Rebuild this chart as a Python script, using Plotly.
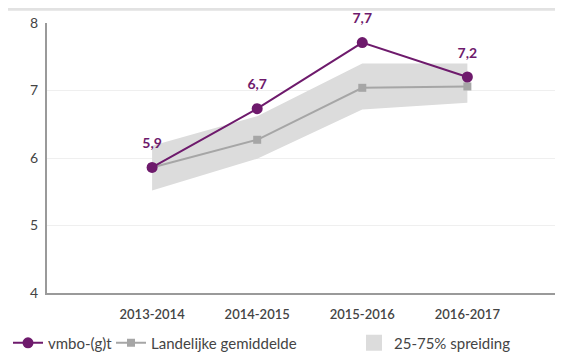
import plotly.graph_objects as go

categories = ["2013-2014", "2014-2015", "2015-2016", "2016-2017"]
vmbo = [5.86, 6.73, 7.71, 7.20]
vmbo_labels = ["5,9", "6,7", "7,7", "7,2"]
landelijk = [5.86, 6.27, 7.04, 7.06]
band_upper = [6.18, 6.62, 7.40, 7.40]
band_lower = [5.52, 5.99, 6.72, 6.82]
y_ticks = [4, 5, 6, 7, 8]

PURPLE = "#6e1a6c"
GRAY_LINE = "#a6a6a6"
BAND = "#dcdcdc"
FONT = "Lato"

xi = list(range(len(categories)))

fig = go.Figure()
fig.add_trace(go.Scatter(
    x=xi, y=band_lower, mode="lines", line=dict(width=0, color=BAND),
    showlegend=False, hoverinfo="skip"))
fig.add_trace(go.Scatter(
    x=xi, y=band_upper, mode="lines", line=dict(width=0, color=BAND),
    fill="tonexty", fillcolor=BAND, showlegend=False, hoverinfo="skip",
    legendgroup="band"))
# legend entry (box) for the band
fig.add_trace(go.Scatter(
    x=[None], y=[None], mode="markers", name="25-75% spreiding",
    marker=dict(symbol="square", size=16, color=BAND),
    legendgroup="band", legendrank=3))
fig.add_trace(go.Scatter(
    x=xi, y=landelijk, mode="lines+markers", name="Landelijke gemiddelde",
    line=dict(color=GRAY_LINE, width=2),
    marker=dict(symbol="square", size=8, color=GRAY_LINE), legendrank=2,
    legendwidth=198))
fig.add_trace(go.Scatter(
    x=xi, y=vmbo, mode="lines+markers", name="vmbo-(g)t",
    line=dict(color=PURPLE, width=2),
    marker=dict(symbol="circle", size=11, color=PURPLE),
    legendrank=1, legendwidth=58))
# value labels for vmbo-(g)t
fig.add_trace(go.Scatter(
    x=xi, y=vmbo, mode="markers+text", showlegend=False, hoverinfo="skip",
    marker=dict(size=24, color="rgba(0,0,0,0)"),
    text=vmbo_labels, textposition="top center", cliponaxis=False,
    textfont=dict(family=FONT, size=14, color=PURPLE, weight="bold")))

fig.update_layout(
    width=555, height=348,
    margin=dict(l=39, r=0, t=15, b=63, autoexpand=False),
    paper_bgcolor="white", plot_bgcolor="white",
    font=dict(family=FONT, color="#444444", size=13),
    showlegend=True,
    legend=dict(orientation="h", x=0.0, xref="container",
                y=0.037, yref="container",
                yanchor="middle", xanchor="left", traceorder="normal",
                font=dict(family=FONT, size=15, color="#444444"),
                itemwidth=30),
    xaxis=dict(
        range=[-1, 3.91], tickmode="array", tickvals=xi, ticktext=categories,
        showgrid=False, zeroline=False, showline=True, linecolor="#9a9a9a",
        linewidth=2, ticks="", automargin=False, ticklabelstandoff=8,
        tickfont=dict(family=FONT, size=13, color="#444444", weight=600)),
    yaxis=dict(
        range=[4, 8], tickmode="array", tickvals=y_ticks,
        showgrid=True, gridcolor="#efefef", gridwidth=1, zeroline=False,
        showline=True, linecolor="#9a9a9a", linewidth=2, ticks="",
        ticklabelstandoff=4, automargin=False,
        tickfont=dict(family=FONT, size=14, color="#444444")),
    shapes=[dict(type="line", xref="paper", yref="paper",
                 x0=-0.078, x1=1.0, y0=1.051, y1=1.051,
                 line=dict(color="#e2e2e2", width=3))],
)

fig.write_html("out.html")
